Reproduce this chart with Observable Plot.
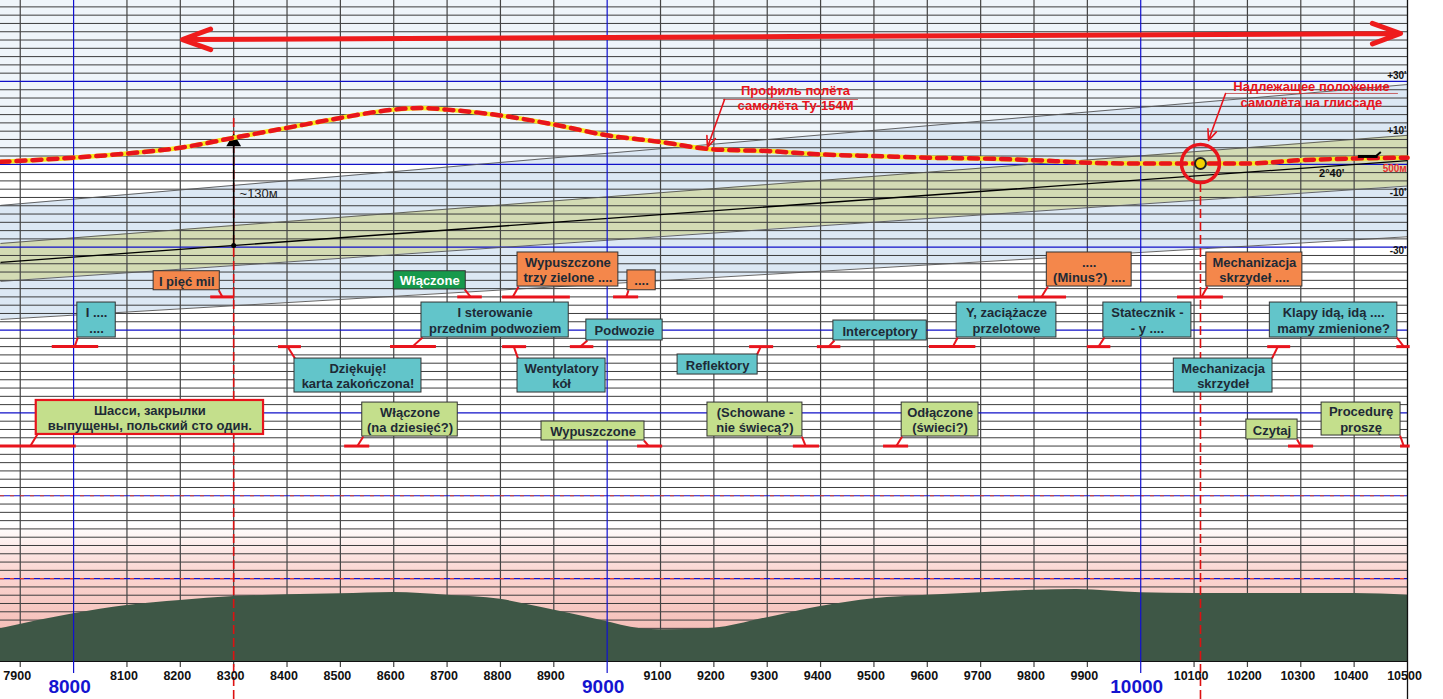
<!DOCTYPE html>
<html><head><meta charset="utf-8">
<script src="https://cdn.jsdelivr.net/npm/d3@7"></script>
<script src="https://cdn.jsdelivr.net/npm/@observablehq/plot@0.6"></script>
<style>
html,body{margin:0;padding:0;background:#fff;}
#chart{width:1443px;height:699px;overflow:hidden;}
</style></head><body><div id="chart"></div>
<script>
const X_MIN = 7863, X_MAX = 10500, Y_MAX = 797.7;

// x-axis tick labels
const minorTicks = [7900,8100,8200,8300,8400,8500,8600,8700,8800,8900,9100,9200,9300,9400,9500,9600,9700,9800,9900,10100,10200,10300,10400,10500];
const majorTicks = [8000,9000,10000];

// flight profile of the Tu-154M (distance, height)
const profileX = [7863,8000,8100,8200,8300,8400,8500,8600,8650,8700,8800,8900,9000,9100,9200,9300,9400,9500,9600,9700,9800,9900,10000,10100,10200,10300,10400,10500];
const profileH = [603,608,613,620,632,644,656,666,668,666,659,648,635,627,618,616,612,610,608,607,605,602,601,601,601,605,607,608];

// terrain
const terrainX = [7863,8000,8100,8200,8300,8400,8500,8600,8700,8800,8875,8990,9063,9100,9200,9290,9400,9500,9600,9700,9800,9880,10000,10100,10300,10400,10500];
const terrainH = [39.5,57.6,67.6,73.6,78.4,80.5,81.7,83.3,80,75,65.5,49.5,39.5,38.3,40.2,51.5,66.4,75.7,80,83,86,87,83,82,82,82,80];

// glide slope lines (height at left and right edges)
const glideNames = ["+30'","+10'","2°40'","-10'","-30'"];
const glideLeft  = [550.4,504.5,481.7,458.7,412.8];
const glideRight = [696.3,635.0,604.5,573.8,512.6];

// annotations
const noteLabels = [
 "I pięć mil","Włączone","Wypuszczone\ntrzy zielone ....","....","....\n(Minus?) ....","Mechanizacja\nskrzydeł ....",
 "I ....\n....","Dziękuję!\nkarta zakończona!","I sterowanie\nprzednim podwoziem","Wentylatory\nkół","Podwozie","Reflektory","Interceptory","Y, zaciążacze\nprzelotowe","Statecznik -\n- y ....","Mechanizacja\nskrzydeł","Klapy idą, idą ....\nmamy zmienione?",
 "Шасси, закрылки\nвыпущены, польский сто один.","Włączone\n(na dziesięć?)","Wypuszczone","(Schowane -\nnie świecą?)","Odłączone\n(świeci?)","Czytaj","Procedurę\nproszę"
];
const noteKinds = ["orange","green","orange","orange","orange","orange",
 "teal","teal","teal","teal","teal","teal","teal","teal","teal","teal","teal",
 "limeRed","lime","lime","lime","lime","lime","lime"];
const noteLevels = [440,440,440,440,440,440, 380,380,380,380,380,380,380,380,380,380,380, 260,260,260,260,260,260,260];
// layout: bar [from,to], box [x1,x2,y1,y2], leader [x at box, y at box, x at bar]
const noteLayout = [
 {bar:[8257,8302], box:[8150,8274,448,471], lead:[8272,448,8279]},
 {bar:[8720,8766], box:[8600,8735,449,471], lead:[8733,449,8744]},
 {bar:[8804,8931], box:[8832,9021,452.5,493.6], lead:[8834,452.5,8823]},
 {bar:[9012,9059], box:[9038,9091,448,472], lead:[9040,448,9036]},
 {bar:[9771,9861], box:[9824,9983,452.5,493.6], lead:[9826,452.5,9814]},
 {bar:[10069,10155], box:[10123,10303,452.5,493.6], lead:[10125,452.5,10114]},
 {bar:[7960,8047], box:[8007,8079,391,433.2], lead:[8008,391,8002]},
 {bar:[8384,8427], box:[8414,8652,324.6,365.6], lead:[8415,365.6,8401]},
 {bar:[8594,8680], box:[8652,8928,391,433.2], lead:[8654,391,8635]},
 {bar:[8804,8849], box:[8832,8997,324.6,365.6], lead:[8833,365.6,8825]},
 {bar:[8931,8975], box:[8961,9104,387.4,412.7], lead:[8963,387.4,8950]},
 {bar:[9267,9312], box:[9132,9282,346.3,370.5], lead:[9281,370.5,9288]},
 {bar:[9394,9438], box:[9424,9599,387.4,411.5], lead:[9426,387.4,9415]},
 {bar:[9604,9691], box:[9655,9842,391,433.2], lead:[9657,391,9648]},
 {bar:[9900,9944], box:[9930,10095,391,433.2], lead:[9932,391,9921]},
 {bar:[10238,10281], box:[10062,10247,324.6,365.6], lead:[10246,365.6,10257]},
 {bar:[10480,10505], box:[10242,10481,391,433.2], lead:[10480,391,10493]},
 {bar:[7863,8005], box:[7930,8356,274,315], lead:[7932,274,7919]},
 {bar:[8508,8555], box:[8541,8720,271.5,312.5], lead:[8543,271.5,8532]},
 {bar:[9057,9104], box:[8877,9070,266.7,289.6], lead:[9069,266.7,9078]},
 {bar:[9349,9398], box:[9188,9366,271.5,312.5], lead:[9365,271.5,9372]},
 {bar:[9518,9565], box:[9552,9696,271.5,312.5], lead:[9553,271.5,9542]},
 {bar:[10277,10324], box:[10198,10294,267.9,292], lead:[10293,267.9,10300]},
 {bar:[10487,10505], box:[10339,10487,272.7,312.5], lead:[10486,272.7,10493]}
];
const kindFill = {orange:"#f4874b", green:"#17994b", teal:"#62c5ca", lime:"#c4df8c", limeRed:"#c4df8c"};

// callouts
const calloutTexts = [
 {x:9353, y:680.6, t:"Профиль полёта\nсамолёта Ту-154М"},
 {x:10320, y:684.9, t:"Надлежащее положение\nсамолёта на глиссаде"}
];
const calloutArrows = [
 {x1:9220, y1:678.2, x2:9188, y2:620.5},
 {x1:10159, y1:685.5, x2:10127, y2:628.7}
];
const calloutUnderlines = [{x1:9218, x2:9471, y:678.2},{x1:10159, x2:10483, y:685.5}];
const glideLabels = [{t:"+30'", y:707},{t:"+10'", y:640},{t:"-10'", y:566},{t:"-30'", y:496}];
const properPosition = [{x:10112, y:601}];
const heightGap = {x:8300, from:502, to:632, label:"~130м"};
const directionArrow = {left:[8204,750.6], right:[10487,757.9], mid:[9345,754.2]};
const markerLines = [{x:8300, top:659},{x:10112, top:577}];

// ---- build tables ----
const profile = profileX.map((x,i)=>({x, h:profileH[i]}));
const terrain = terrainX.map((x,i)=>({x, h:terrainH[i]}));
const glide = glideNames.map((n,i)=>({name:n, left:glideLeft[i], right:glideRight[i]}));
const gl = Object.fromEntries(glide.map(d=>[d.name,d]));
const outerBand = [{x:X_MIN, lo:gl["-30'"].left, hi:gl["+30'"].left},{x:X_MAX, lo:gl["-30'"].right, hi:gl["+30'"].right}];
const innerBand = [{x:X_MIN, lo:gl["-10'"].left, hi:gl["+10'"].left},{x:X_MAX, lo:gl["-10'"].right, hi:gl["+10'"].right}];
const notes = noteLabels.map((label,i)=>({label, kind:noteKinds[i], level:noteLevels[i], ...noteLayout[i]}));

const hGray = d3.range(10, 797, 10).filter(v=>v%100!==0);
const hBlue = [300,400,500,600,700];
const hDashed = [100,200];
const vGray = d3.range(7900, 10500, 100).filter(v=>v%1000!==0);

const RED = "#e8141c";
const font = "'Liberation Sans', Arial, sans-serif";

const svg = Plot.plot({
  width: 1443, height: 699,
  marginLeft: 0, marginRight: 36, marginTop: 0, marginBottom: 38,
  x: {domain:[X_MIN, X_MAX], axis:null},
  y: {domain:[0, Y_MAX], axis:null},
  color: {type:"identity"},
  style: {fontFamily: font, background:"#fff", overflow:"visible"},
  marks: [
    // backgrounds
    Plot.rect([{x1:X_MIN,x2:X_MAX,y1:600,y2:Y_MAX}], {x1:"x1",x2:"x2",y1:"y1",y2:"y2", fill:"#eff5fa"}),
    Plot.rect([{x1:X_MIN,x2:X_MAX,y1:0,y2:165}], {x1:"x1",x2:"x2",y1:"y1",y2:"y2", fill:"url(#pinkGrad)"}),
    Plot.areaY(outerBand, {x:"x", y1:"lo", y2:"hi", fill:"#dce8f4"}),
    Plot.areaY(innerBand, {x:"x", y1:"lo", y2:"hi", fill:"#d3dbb4"}),
    // grid
    Plot.ruleY(hGray, {x1:X_MIN, x2:X_MAX, y:d=>d, stroke:"#3d3d3d", strokeWidth:1}),
    Plot.ruleX(vGray, {x:d=>d, y1:-7.3, y2:Y_MAX, stroke:"#444", strokeWidth:1.2}),
    Plot.ruleY(hBlue, {x1:X_MIN, x2:X_MAX, y:d=>d, stroke:"#1010c8", strokeWidth:1.2}),
    Plot.ruleY(hDashed, {x1:X_MIN, x2:X_MAX, y:d=>d, stroke:"#1010c8", strokeWidth:1.2}),
    Plot.ruleY(hDashed, {x1:X_MIN, x2:X_MAX, y:d=>d, stroke:"#e84020", strokeWidth:1.2, strokeDasharray:"4,6"}),
    // glide lines
    Plot.link(glide.filter(d=>d.name!=="2°40'"), {x1:()=>X_MIN, y1:"left", x2:()=>X_MAX, y2:"right", stroke:"#555", strokeWidth:0.9}),
    Plot.link(glide.filter(d=>d.name==="2°40'"), {x1:()=>X_MIN, y1:"left", x2:()=>X_MAX, y2:"right", stroke:"#000", strokeWidth:1.3}),
    // terrain
    Plot.areaY(terrain, {x:"x", y:"h", fill:"#3e5746", curve:"monotone-x"}),
    Plot.ruleY([0], {x1:X_MIN, x2:X_MAX, stroke:"#111", strokeWidth:1.2}),
    Plot.ruleX(majorTicks, {x:d=>d, y1:-14.5, y2:Y_MAX, stroke:"#1010d0", strokeWidth:1.2}),
    Plot.ruleX([X_MAX], {x:d=>d, y1:-46, y2:Y_MAX, stroke:"#111", strokeWidth:1.3}),
    Plot.ruleX(markerLines, {x:"x", y1:-46, y2:"top", stroke:"#dd1111", strokeWidth:1.6, strokeDasharray:"9,4"}),
    // height gap arrow
    Plot.ruleX([heightGap], {x:"x", y1:"from", y2:d=>d.to-6, stroke:"#000", strokeWidth:1.5}),
    Plot.dot([heightGap], {x:"x", y:d=>d.to-5, symbol:"triangle", r:5.5, fill:"#000"}),
    Plot.dot([heightGap], {x:"x", y:"from", r:2.5, fill:"#000"}),
    Plot.text([heightGap], {x:d=>d.x+11, y:564.8, text:"label", textAnchor:"start", fontSize:13, fill:"#222"}),
    // flight profile
    Plot.line(profile, {x:"x", y:"h", stroke:"#f7e81a", strokeWidth:4.5, curve:"monotone-x"}),
    Plot.line(profile, {x:"x", y:"h", stroke:RED, strokeWidth:4.5, strokeDasharray:"9,7", curve:"monotone-x"}),
    // plane icon
    Plot.link([{x1:10407,y1:609.5,x2:10444,y2:609.5}], {x1:"x1",y1:"y1",x2:"x2",y2:"y2", stroke:"#000", strokeWidth:3}),
    Plot.link([{x1:10440,y1:609.5,x2:10450,y2:615}], {x1:"x1",y1:"y1",x2:"x2",y2:"y2", stroke:"#000", strokeWidth:2}),
    // proper position
    Plot.dot(properPosition, {x:"x", y:"y", r:19, stroke:RED, strokeWidth:3.5, fill:"none"}),
    Plot.dot(properPosition, {x:"x", y:"y", r:5.5, stroke:"#222", strokeWidth:2, fill:"#f2d200"}),
    // annotation bars and leaders
    Plot.ruleY(notes, {x1:d=>d.bar[0], x2:d=>d.bar[1], y:"level", stroke:RED, strokeWidth:3}),
    Plot.link(notes, {x1:d=>d.lead[0], y1:d=>d.lead[1], x2:d=>d.lead[2], y2:"level", stroke:RED, strokeWidth:2}),
    Plot.rect(notes, {x1:d=>d.box[0], x2:d=>d.box[1], y1:d=>d.box[2], y2:d=>d.box[3],
      fill:d=>kindFill[d.kind], stroke:d=>d.kind==="limeRed"?RED:"#333", strokeWidth:d=>d.kind==="limeRed"?2.2:1}),
    Plot.text(notes, {x:d=>(d.box[0]+d.box[1])/2, y:d=>(d.box[2]+d.box[3])/2, text:"label",
      fill:d=>d.kind==="green"?"#ffffff":"#1e2a36", fontWeight:"bold", fontSize:13, lineHeight:1.2}),
    // glide labels
    Plot.text(glideLabels, {x:()=>X_MAX, y:"y", text:"t", textAnchor:"end", dx:-1, fontWeight:"bold", fontSize:10, fill:"#111"}),
    Plot.text([{t:"2°40'"}], {x:()=>10358, y:()=>588.9, text:"t", fontWeight:"bold", fontSize:11, fill:"#111"}),
    Plot.text([{t:"500м"}], {x:()=>10476, y:()=>595, text:"t", fontWeight:"bold", fontSize:10, fill:"#e83030"}),
    // callouts
    Plot.ruleY(calloutUnderlines, {x1:"x1", x2:"x2", y:"y", stroke:"#c04040", strokeWidth:0.8}),
    Plot.arrow(calloutArrows, {x1:"x1", y1:"y1", x2:"x2", y2:"y2", stroke:RED, strokeWidth:1.6, headLength:11, headAngle:45}),
    Plot.text(calloutTexts, {x:"x", y:"y", text:"t", fill:RED, fontWeight:"bold", fontSize:13, lineHeight:1.18}),
    // direction arrow
    Plot.arrow([
      {x1:directionArrow.mid[0], y1:directionArrow.mid[1], x2:directionArrow.left[0], y2:directionArrow.left[1]},
      {x1:directionArrow.mid[0], y1:directionArrow.mid[1], x2:directionArrow.right[0], y2:directionArrow.right[1]}
    ], {x1:"x1", y1:"y1", x2:"x2", y2:"y2", stroke:"#ee1c1c", strokeWidth:5, headLength:9, headAngle:40, strokeLinecap:"round", strokeLinejoin:"round"}),
    // x tick labels
    Plot.text(minorTicks, {x:d=>d, y:()=>-18, text:d=>String(d), dx:-3, fontWeight:"bold", fontSize:12.5, fill:"#111"}),
    Plot.text(majorTicks, {x:d=>d, y:()=>-30.5, text:d=>String(d), dx:-4, fontWeight:"bold", fontSize:19, fill:"#1414d0"})
  ]
});

const defs = d3.select(svg).insert("defs", ":first-child");
const grad = defs.append("linearGradient").attr("id","pinkGrad").attr("x1",0).attr("y1",0).attr("x2",0).attr("y2",1);
[[0,"#ffffff"],[0.33,"#fbd7d3"],[0.7,"#f6c3bd"],[1,"#f2b2aa"]].forEach(([o,c])=>grad.append("stop").attr("offset",o).attr("stop-color",c));

document.getElementById("chart").appendChild(svg);
</script></body></html>
